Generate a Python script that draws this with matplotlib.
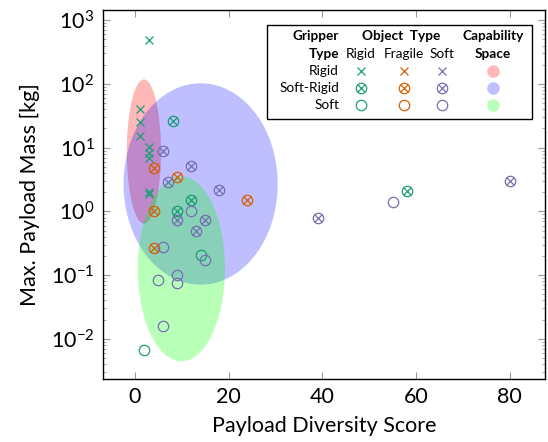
import numpy as np
import matplotlib
matplotlib.use("Agg")
import matplotlib.pyplot as plt

plt.rcParams['font.family'] = ['Lato', 'DejaVu Sans']
plt.rcParams['mathtext.fontset'] = 'custom'
plt.rcParams['mathtext.rm'] = 'Lato'
plt.rcParams['mathtext.it'] = 'Lato:italic'
plt.rcParams['mathtext.bf'] = 'Lato:bold'

# Colores (Dark2) para el tipo de objeto
c_rigid = "#1b9e77"
c_fragile = "#d95f02"
c_soft = "#7570b3"

# Datos: pinza rigida (marcador x)
rig_rig_x = [3, 1, 1, 1, 3, 3, 3, 3, 3]
rig_rig_y = [480, 41, 25, 15, 10.2, 8.2, 6.9, 2.0, 1.85]

# Pinza semi-rigida (marcador circulo con x)
sr_rig_x = [8, 12, 9, 58]
sr_rig_y = [26.5, 1.5, 1.0, 2.08]
sr_fra_x = [4, 9, 4, 4, 24]
sr_fra_y = [4.8, 3.5, 1.0, 0.27, 1.49]
sr_soft_x = [6, 12, 7, 9, 15, 13, 18, 39, 80]
sr_soft_y = [8.9, 5.1, 2.9, 0.72, 0.74, 0.50, 2.19, 0.785, 2.98]

# Pinza blanda (marcador circulo)
soft_rig_x = [14, 2]
soft_rig_y = [0.204, 0.0068]
soft_soft_x = [12, 6, 15, 5, 9, 9, 6, 55]
soft_soft_y = [1.0, 0.276, 0.175, 0.085, 0.1, 0.074, 0.0158, 1.4]

# Espacios de capacidad: centro x, centro log10(y), semieje x, semieje en decadas
cap_names = ["Rigid", "Soft-Rigid", "Soft"]
cap_cx = [1.9, 14.0, 9.9]
cap_cy = [0.94, 0.43, -0.90]
cap_ax = [3.65, 16.45, 9.3]
cap_ay = [1.13, 1.58, 1.45]
cap_colors = ["#ff0000", "#0000ff", "#00ff00"]
cap_alpha = [0.28, 0.25, 0.28]

fig = plt.figure(figsize=(5.48, 4.42), dpi=100)
ax = fig.add_axes([0.1874, 0.1425, 0.8071, 0.8345])

t = np.linspace(0, 2 * np.pi, 300)
for cx, cy, a, b, col, al in zip(cap_cx, cap_cy, cap_ax, cap_ay, cap_colors, cap_alpha):
    ax.fill(cx + a * np.cos(t), 10 ** (cy + b * np.sin(t)), color=col, alpha=al, lw=0, zorder=1)

ms_o = 7.5
ms_x = 5.5
lw = 0.9

def cruz(x, y, c):
    ax.plot(x, y, ls="none", marker="x", ms=ms_x, mew=lw, color=c, zorder=3)

def circulo(x, y, c):
    ax.plot(x, y, ls="none", marker="o", ms=ms_o, mew=lw, mfc="none", mec=c, zorder=3)

cruz(rig_rig_x, rig_rig_y, c_rigid)

for xs, ys, c in [(sr_rig_x, sr_rig_y, c_rigid), (sr_fra_x, sr_fra_y, c_fragile), (sr_soft_x, sr_soft_y, c_soft)]:
    circulo(xs, ys, c)
    cruz(xs, ys, c)

circulo(soft_rig_x, soft_rig_y, c_rigid)
circulo(soft_soft_x, soft_soft_y, c_soft)

ax.set_yscale("log")
ax.set_xlim(-6.9, 87.5)
ax.set_ylim(10 ** -2.63, 10 ** 3.157)
ax.set_xticks([0, 20, 40, 60, 80])
ax.tick_params(which="both", direction="in", top=True, right=True, color="#999999", labelsize=15.5)
ax.tick_params(which="major", length=5, pad=6)
ax.tick_params(which="minor", length=2.5)
ax.xaxis.set_minor_locator(matplotlib.ticker.NullLocator())
ax.set_xlabel("Payload Diversity Score", fontsize=15.5, labelpad=6)
ax.set_ylabel("Max. Payload Mass [kg]", fontsize=15.5, labelpad=8)
for s in ax.spines.values():
    s.set_linewidth(1.0)

# Leyenda tipo tabla (coordenadas de ejes)
def ax_x(px):
    return (px - 102.7) / (545 - 102.7)

def ax_y(py):
    return (379 - py) / (379 - 10.2)

box = plt.Rectangle((ax_x(267), ax_y(119)), ax_x(532) - ax_x(267), ax_y(25) - ax_y(119),
                    transform=ax.transAxes, fc="white", ec="black", lw=1.0, zorder=5)
ax.add_patch(box)

fs = 9.8
kw = dict(transform=ax.transAxes, fontsize=fs, va="center", zorder=6)
ax.text(ax_x(339), ax_y(36), "Gripper", ha="right", weight="bold", **kw)
ax.text(ax_x(339), ax_y(54), "Type", ha="right", weight="bold", **kw)
ax.text(ax_x(401), ax_y(36), "Object  Type", ha="center", weight="bold", **kw)
ax.text(ax_x(493), ax_y(36), "Capability", ha="center", weight="bold", **kw)
ax.text(ax_x(493), ax_y(54), "Space", ha="center", weight="bold", **kw)

col_x = [361, 404, 442]
col_names = ["Rigid", "Fragile", "Soft"]
col_colors = [c_rigid, c_fragile, c_soft]
for px, name in zip(col_x, col_names):
    ax.text(ax_x(px), ax_y(54), name, ha="center", **kw)

row_y = [71, 88.5, 105]
for py, name, cc, al in zip(row_y, cap_names, cap_colors, cap_alpha):
    ax.text(ax_x(339), ax_y(py), name, ha="right", **kw)
    ax.plot(ax_x(493), ax_y(py), marker="o", ms=9, mew=0, color=cc, alpha=al,
            transform=ax.transAxes, zorder=6, clip_on=False)

for px, c in zip(col_x, col_colors):
    # Rigid: x
    ax.plot(ax_x(px), ax_y(row_y[0]), marker="x", ms=ms_x, mew=lw, color=c,
            transform=ax.transAxes, zorder=6)
    # Soft-Rigid: circulo con x
    ax.plot(ax_x(px), ax_y(row_y[1]), marker="o", ms=ms_o, mew=lw, mfc="none", mec=c,
            transform=ax.transAxes, zorder=6)
    ax.plot(ax_x(px), ax_y(row_y[1]), marker="x", ms=ms_x, mew=lw, color=c,
            transform=ax.transAxes, zorder=6)
    # Soft: circulo
    ax.plot(ax_x(px), ax_y(row_y[2]), marker="o", ms=ms_o, mew=lw, mfc="none", mec=c,
            transform=ax.transAxes, zorder=6)

fig.savefig("out.png", dpi=100)
